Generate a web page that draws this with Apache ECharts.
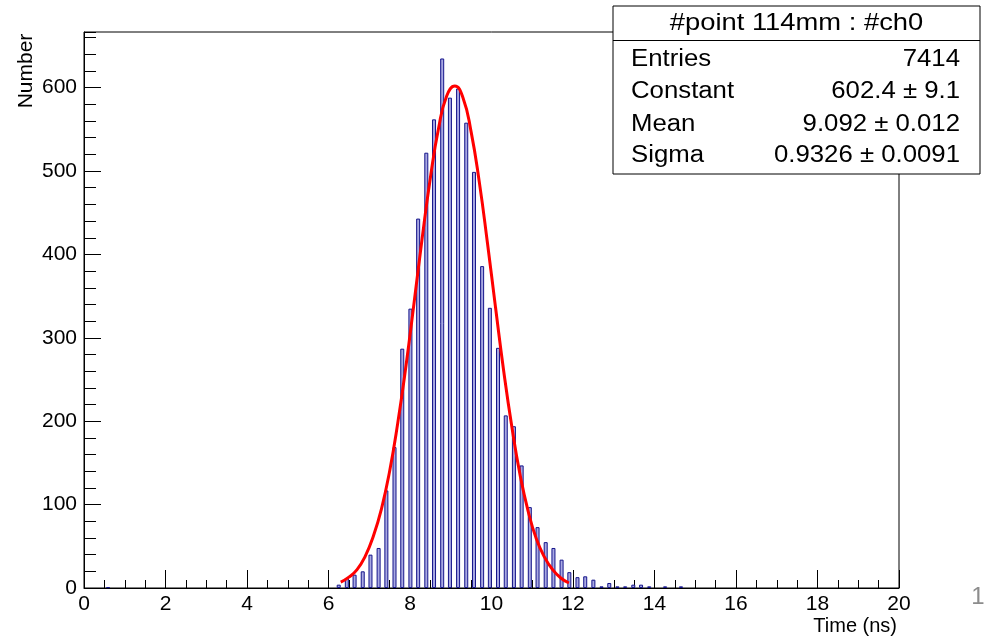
<!DOCTYPE html>
<html>
<head>
<meta charset="utf-8">
<script src="https://cdn.jsdelivr.net/npm/echarts@6/dist/echarts.min.js"></script>
<style>
html,body{margin:0;padding:0;background:#fff;}
#chart{width:988px;height:638px;}
</style>
</head>
<body>
<div id="chart"></div>
<script>
// Histogram bins (time in ns) and counts
const binTimes = [0.59, 6.25, 6.45, 6.64, 6.84, 7.03, 7.23, 7.42, 7.62, 7.81, 8.01, 8.20, 8.40, 8.59, 8.79, 8.98, 9.18, 9.38, 9.57, 9.77, 9.96, 10.16, 10.35, 10.55, 10.74, 10.94, 11.13, 11.33, 11.52, 11.72, 11.91, 12.11, 12.30, 12.50, 12.70, 12.89, 13.09, 13.28, 13.48, 13.67, 13.87, 14.26, 14.65];
const binCounts = [1, 4, 12, 16, 20, 40, 48, 117, 169, 287, 335, 443, 522, 562, 635, 588, 599, 558, 499, 386, 336, 288, 207, 194, 147, 97, 73, 55, 48, 34, 19, 13, 14, 10, 2, 6, 2, 2, 4, 4, 2, 2, 2];

// Fit curve points
const fitTimes = [6.3, 6.5, 6.7, 6.9, 7.1, 7.3, 7.5, 7.7, 7.9, 8.1, 8.3, 8.5, 8.7, 8.9, 9.1, 9.3, 9.5, 9.7, 9.9, 10.1, 10.3, 10.5, 10.7, 10.9, 11.1, 11.3, 11.5, 11.7, 11.9];
const fitValues = [7, 13, 22, 38, 62, 95, 140, 198, 266, 342, 420, 492, 551, 590, 602, 588, 547, 487, 414, 336, 260, 193, 136, 92, 59, 37, 22, 12, 6];

// Stats box text
const statsTitle = '#point 114mm : #ch0';
const statsLabels = ['Entries', 'Constant', 'Mean', 'Sigma'];
const statsValues = ['7414', '602.4 \u00b1 9.1', '9.092 \u00b1 0.012', '0.9326 \u00b1 0.0091'];

const xTitle = 'Time (ns)';
const yTitle = 'Number';

const FONT = '"Liberation Sans", Arial, Helvetica, sans-serif';

const chart = echarts.init(document.getElementById('chart'));

const barData = binTimes.map((t, i) => [t, binCounts[i]]);
const fitData = fitTimes.map((t, i) => [t, fitValues[i]]);

const rowY = [60, 92, 125, 156];
const graphics = [
  {type: 'rect', shape: {x: 613, y: 6, width: 367, height: 168}, style: {fill: '#fff', stroke: '#000', lineWidth: 1}, z: 100},
  {type: 'line', shape: {x1: 613, y1: 40.5, x2: 980, y2: 40.5}, style: {stroke: '#000', lineWidth: 1}, z: 101},
  {type: 'text', x: 796.5, y: 23, scaleX: 1.14, style: {text: statsTitle, font: '24px ' + FONT, fill: '#000', textAlign: 'center', textVerticalAlign: 'middle'}, z: 101},
  {type: 'text', x: 26, y: 71, rotation: Math.PI / 2, style: {text: yTitle, font: '21px ' + FONT, fill: '#000', textAlign: 'center', textVerticalAlign: 'middle'}, z: 101},
  {type: 'text', x: 897, y: 626, style: {text: xTitle, font: '20px ' + FONT, fill: '#000', textAlign: 'right', textVerticalAlign: 'middle'}, z: 101},
  {type: 'text', x: 978, y: 597, style: {text: '1', font: '24px ' + FONT, fill: '#8c8c8c', textAlign: 'center', textVerticalAlign: 'middle'}, z: 101}
];
statsLabels.forEach((lab, i) => {
  graphics.push({type: 'text', x: 631, y: rowY[i], scaleX: 1.12, style: {text: lab, font: '23px ' + FONT, fill: '#000', textAlign: 'left', textVerticalAlign: 'middle'}, z: 101});
  graphics.push({type: 'text', x: 960, y: rowY[i], scaleX: 1.12, style: {text: statsValues[i], font: '23px ' + FONT, fill: '#000', textAlign: 'right', textVerticalAlign: 'middle'}, z: 101});
});

const option = {
  animation: false,
  backgroundColor: '#fff',
  grid: {left: 84, right: 89, top: 32, bottom: 50, show: true, borderColor: '#000', borderWidth: 1, backgroundColor: 'transparent'},
  xAxis: {
    type: 'value', min: 0, max: 20, interval: 2,
    axisLine: {lineStyle: {color: '#000', width: 1}},
    axisTick: {inside: true, length: 18, lineStyle: {color: '#000', width: 1}},
    minorTick: {show: true, splitNumber: 4, length: 8, lineStyle: {color: '#000', width: 1}},
    axisLabel: {color: '#000', fontSize: 21, fontFamily: FONT, margin: 6},
    splitLine: {show: false}
  },
  yAxis: [
    {
      type: 'value', min: 0, max: 666.75, interval: 100,
      axisLine: {show: true, lineStyle: {color: '#000', width: 1}},
      axisTick: {show: true, inside: true, length: 17, lineStyle: {color: '#000', width: 1}},
      axisLabel: {color: '#000', fontSize: 21, fontFamily: FONT, margin: 7, showMaxLabel: false},
      splitLine: {show: false}
    },
    {
      type: 'value', min: 0, max: 666.75, interval: 20, position: 'left',
      axisLine: {show: false},
      axisTick: {show: true, inside: true, length: 12, lineStyle: {color: '#000', width: 1}},
      axisLabel: {show: false},
      splitLine: {show: false}
    }
  ],
  series: [
    {
      type: 'bar', data: barData, barWidth: 4, yAxisIndex: 0,
      itemStyle: {color: '#a9a9e2', borderColor: '#14148a', borderWidth: 1},
      z: 2
    },
    {
      type: 'line', data: fitData, yAxisIndex: 0, smooth: true, showSymbol: false, symbol: 'none',
      lineStyle: {color: '#ff0000', width: 3},
      z: 3
    }
  ],
  graphic: graphics
};
chart.setOption(option);
</script>
</body>
</html>
